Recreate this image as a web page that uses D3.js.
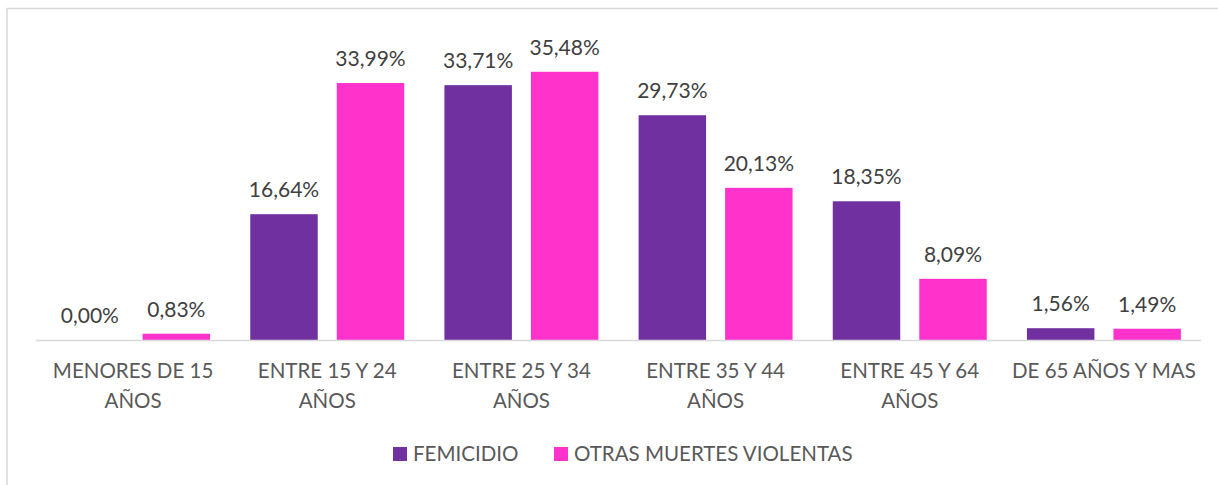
<!DOCTYPE html>
<html>
<head>
<meta charset="utf-8">
<script src="https://cdn.jsdelivr.net/npm/d3@7"></script>
<style>
  html, body { margin: 0; padding: 0; background: #fff; }
  svg { display: block; font-family: Lato, "Open Sans", sans-serif; }
</style>
</head>
<body>
<svg id="chart" width="1218" height="485"></svg>
<script>
const categories = ["MENORES DE 15 AÑOS", "ENTRE 15 Y 24 AÑOS", "ENTRE 25 Y 34 AÑOS", "ENTRE 35 Y 44 AÑOS", "ENTRE 45 Y 64 AÑOS", "DE 65 AÑOS Y MAS"];
const seriesNames = ["FEMICIDIO", "OTRAS MUERTES VIOLENTAS"];
const femicidio = [0.00, 16.64, 33.71, 29.73, 18.35, 1.56];
const otras = [0.83, 33.99, 35.48, 20.13, 8.09, 1.49];
const colors = ["#7030A0", "#FF33CC"];

const svg = d3.select("#chart");

// outer border (top & left visible)
svg.append("rect").attr("x", 7).attr("y", 8.5).attr("width", 1300).attr("height", 600)
  .attr("fill", "none").attr("stroke", "#D9D9D9").attr("stroke-width", 1.5);

const left = 36, right = 1201, baseY = 340;
const x0 = d3.scaleBand().domain(categories).range([left, right]).paddingInner(0.207).paddingOuter(0.1035);
const x1 = d3.scaleBand().domain(seriesNames).range([0, x0.bandwidth()]).paddingInner(0.22).paddingOuter(0);
const y = d3.scaleLinear().domain([0, 40]).range([baseY, baseY - 40 * 7.56]);

const data = categories.map((c, i) => ({ cat: c, vals: [femicidio[i], otras[i]] }));
const fmt = v => v.toFixed(2).replace(".", ",") + "%";

const groups = svg.append("g").selectAll("g").data(data).join("g")
  .attr("transform", d => `translate(${x0(d.cat)},0)`);

groups.selectAll("rect").data(d => d.vals.map((v, j) => ({ v, s: seriesNames[j], j })))
  .join("rect")
  .attr("x", d => x1(d.s))
  .attr("width", x1.bandwidth())
  .attr("y", d => y(d.v))
  .attr("height", d => baseY - y(d.v))
  .attr("fill", d => colors[d.j]);

groups.selectAll("text").data(d => d.vals.map((v, j) => ({ v, s: seriesNames[j], j })))
  .join("text")
  .attr("x", d => x1(d.s) + x1.bandwidth() / 2)
  .attr("y", d => y(d.v) - 17)
  .attr("text-anchor", "middle")
  .attr("fill", "#404040")
  .attr("font-size", 21)
  .text(d => fmt(d.v));

// axis line
svg.append("line").attr("x1", left).attr("x2", right).attr("y1", baseY + 0.5).attr("y2", baseY + 0.5)
  .attr("stroke", "#D9D9D9").attr("stroke-width", 1.5);

// category labels with wrapping
const xAxis = svg.append("g").attr("transform", `translate(0,${baseY})`)
  .call(d3.axisBottom(x0).tickSize(0).tickPadding(0));
xAxis.select(".domain").remove();
xAxis.selectAll("text").each(function(d) {
  const t = d3.select(this);
  t.text(null).attr("y", 0).attr("dy", null)
    .attr("fill", "#595959").attr("font-size", 20.5).attr("font-family", "Lato, 'Open Sans', sans-serif");
  const words = d.split(" ");
  const maxW = x0.step() - 6;
  let lines = [], line = [];
  const probe = t.append("tspan");
  words.forEach(w => {
    const test = line.concat([w]).join(" ");
    probe.text(test);
    if (probe.node().getComputedTextLength() > maxW && line.length) {
      lines.push(line.join(" "));
      line = [w];
    } else line.push(w);
  });
  lines.push(line.join(" "));
  probe.remove();
  lines.forEach((l, k) => {
    t.append("tspan").attr("x", 0).attr("y", 38 + k * 30).text(l);
  });
});

// legend
const legend = svg.append("g");
const legItems = [{ name: seriesNames[0], x: 393 }, { name: seriesNames[1], x: 554 }];
legItems.forEach((it, i) => {
  legend.append("rect").attr("x", it.x).attr("y", 447).attr("width", 14).attr("height", 14).attr("fill", colors[i]);
  legend.append("text").attr("x", it.x + 20).attr("y", 461).attr("fill", "#595959")
    .attr("font-size", 20.5).text(it.name);
});
</script>
</body>
</html>
